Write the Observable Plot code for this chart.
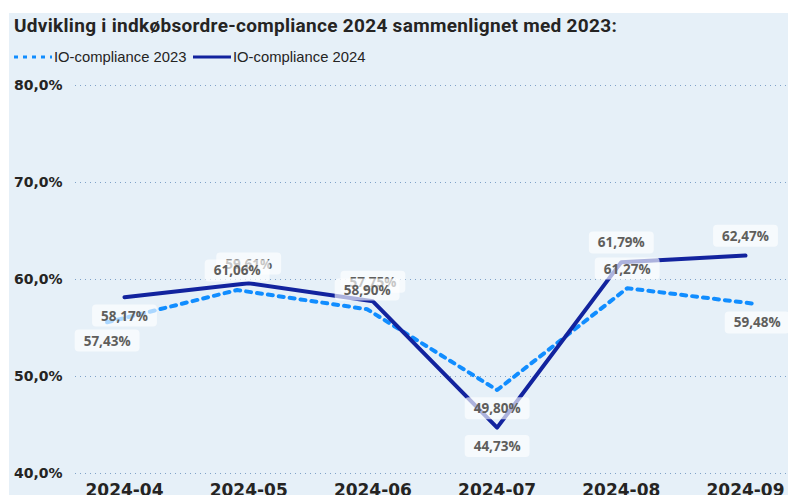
<!DOCTYPE html>
<html>
<head>
<meta charset="utf-8">
<script src="https://cdn.jsdelivr.net/npm/d3@7"></script>
<script src="https://cdn.jsdelivr.net/npm/@observablehq/plot@0.6"></script>
<style>
  html, body { margin: 0; padding: 0; background: #ffffff; width: 788px; height: 495px; overflow: hidden; }
  #panel { position: absolute; left: 9px; top: 13px; width: 779px; height: 482px; background: #e6f0f8; }
  #title { position: absolute; left: 14px; top: 15px; font: 700 19px Roboto, sans-serif; letter-spacing: 0.3px; line-height: 22px; color: #252423; white-space: nowrap; }
  #legend { position: absolute; left: 14px; top: 48px; height: 18px; font: 14.8px "Liberation Sans", Arial, sans-serif; color: #252423; white-space: nowrap; }
  #legend .item { position: absolute; top: 0; display: flex; align-items: center; height: 18px; }
  #legend svg { display: block; }
  #chart { position: absolute; left: 0; top: 70px; }
  #chart g[aria-label="y-axis tick label"] text { font: 700 14px "DejaVu Sans", sans-serif; fill: #252423; }
  #chart g[aria-label="x-axis tick label"] text { font: 700 17px "DejaVu Sans", sans-serif; fill: #252423; }
  #chart text.lbl { font: 700 13.5px "Open Sans", sans-serif; fill: #5f5e5c; }
</style>
</head>
<body>
<div id="panel"></div>
<div id="title">Udvikling i indkøbsordre-compliance 2024 sammenlignet med 2023:</div>
<div id="legend"></div>
<div id="chart"></div>
<script>
// ---- data ----
const months = ["2024-04", "2024-05", "2024-06", "2024-07", "2024-08", "2024-09"];
const io2023 = [57.43, 61.06, 58.90, 49.80, 61.27, 59.48];
const io2024 = [58.17, 59.61, 57.75, 44.73, 61.79, 62.47];
const yTicks = [40, 50, 60, 70, 80];
const seriesNames = ["IO-compliance 2023", "IO-compliance 2024"];
const seriesColors = ["#118DFF", "#12239E"];

// 2023 series is drawn against its own (secondary) scales in the original
const secondaryY2023 = [40.4, 84.1];   // value domain of the 2023 axis
const secondaryX2023 = [-0.14, 5.094]; // month-index extent of the 2023 line
const below2023 = [true, false, false, true, false, true];
const below2024 = [true, false, false, true, false, false];

const fmtPct = v => v.toFixed(2).replace(".", ",") + "%";
const fmtTick = v => v.toFixed(1).replace(".", ",") + "%";
const toPrimaryY = v => 40 + (v - secondaryY2023[0]) * (80 - 40) / (secondaryY2023[1] - secondaryY2023[0]);
const toPrimaryX = i => secondaryX2023[0] + i * (secondaryX2023[1] - secondaryX2023[0]) / (months.length - 1);

const rows2023 = months.map((m, i) => ({m, x: toPrimaryX(i), y: toPrimaryY(io2023[i]), v: io2023[i], below: below2023[i]}));
const rows2024 = months.map((m, i) => ({m, x: i, y: io2024[i], v: io2024[i], below: below2024[i]}));

const lbl = (rows, below) => Plot.text(rows.filter(d => d.below === below), {
  x: "x", y: "y", text: d => fmtPct(d.v), dy: below ? 19 : -19,
  textAnchor: "middle", lineAnchor: "middle"
});

const chart = Plot.plot({
  width: 788,
  height: 440,
  marginTop: 15,
  marginBottom: 37,
  marginLeft: 75,
  marginRight: 0,
  style: {background: "transparent", overflow: "visible"},
  x: {type: "linear", domain: [0, months.length - 1], range: [124, 745]},
  y: {domain: [40, 80]},
  marks: [
    Plot.gridY(yTicks, {stroke: "#7ea2c8", strokeOpacity: 1, strokeDasharray: "1,4"}),
    Plot.axisY(yTicks, {tickSize: 0, tickPadding: 13, tickFormat: fmtTick, label: null}),
    Plot.axisX(d3.range(months.length), {tickSize: 0, tickPadding: 10, tickFormat: i => months[i], label: null}),
    Plot.line(rows2023, {x: "x", y: "y", stroke: seriesColors[0], strokeWidth: 4, strokeDasharray: "5,6", strokeLinejoin: "round"}),
    Plot.line(rows2024, {x: "x", y: "y", stroke: seriesColors[1], strokeWidth: 4, strokeLinejoin: "round", strokeLinecap: "round"}),
    lbl(rows2024, false),
    lbl(rows2024, true),
    lbl(rows2023, false),
    lbl(rows2023, true)
  ]
});
document.getElementById("chart").appendChild(chart);

// label boxes behind each data label
const pctRe = /^\d+,\d{2}%$/;
chart.querySelectorAll("text").forEach(t => {
  if (!pctRe.test(t.textContent.trim())) return;
  t.classList.add("lbl");
});
chart.querySelectorAll("text.lbl").forEach(t => {
  const b = t.getBBox();
  const cy = b.y + b.height / 2;
  const r = document.createElementNS("http://www.w3.org/2000/svg", "rect");
  r.setAttribute("x", b.x - 9);
  r.setAttribute("y", cy - 11);
  r.setAttribute("width", b.width + 18);
  r.setAttribute("height", 22);
  r.setAttribute("rx", 4);
  r.setAttribute("fill", "#ffffff");
  r.setAttribute("fill-opacity", 0.65);
  if (t.getAttribute("transform")) r.setAttribute("transform", t.getAttribute("transform"));
  t.parentNode.insertBefore(r, t);
});

// legend
const legend = document.getElementById("legend");
const lx = [0, 179];
seriesNames.forEach((name, k) => {
  const item = document.createElement("div");
  item.className = "item";
  item.style.left = lx[k] + "px";
  const sw = d3.create("svg").attr("width", 40).attr("height", 18);
  sw.append("line").attr("x1", 0).attr("x2", 38).attr("y1", 9).attr("y2", 9)
    .attr("stroke", seriesColors[k]).attr("stroke-width", 3)
    .attr("stroke-dasharray", k === 0 ? "4,5" : null);
  item.appendChild(sw.node());
  const sp = document.createElement("span");
  sp.textContent = name;
  item.appendChild(sp);
  legend.appendChild(item);
});
</script>
</body>
</html>
